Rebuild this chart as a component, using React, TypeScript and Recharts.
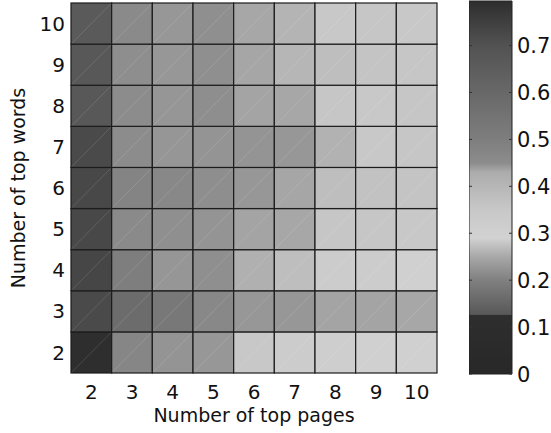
import { ScatterChart, Scatter, XAxis, YAxis, BarChart, Bar } from "recharts";

const pages = [2, 3, 4, 5, 6, 7, 8, 9, 10];
const words = [2, 3, 4, 5, 6, 7, 8, 9, 10];

// one array per "number of top words", values along pages 2..10
const words2 = [0.795, 0.471, 0.445, 0.443, 0.35, 0.326, 0.314, 0.302, 0.302];
const words3 = [0.721, 0.582, 0.527, 0.464, 0.443, 0.443, 0.435, 0.435, 0.433];
const words4 = [0.732, 0.5, 0.444, 0.448, 0.419, 0.379, 0.326, 0.326, 0.302];
const words5 = [0.726, 0.457, 0.448, 0.445, 0.435, 0.433, 0.356, 0.356, 0.35];
const words6 = [0.726, 0.479, 0.464, 0.449, 0.443, 0.434, 0.379, 0.367, 0.361];
const words7 = [0.721, 0.45, 0.444, 0.445, 0.445, 0.443, 0.413, 0.35, 0.356];
const words8 = [0.673, 0.45, 0.444, 0.449, 0.435, 0.433, 0.356, 0.35, 0.356];
const words9 = [0.673, 0.449, 0.443, 0.448, 0.434, 0.401, 0.379, 0.361, 0.356];
const words10 = [0.664, 0.457, 0.443, 0.448, 0.433, 0.407, 0.35, 0.356, 0.35];
const rows = [words2, words3, words4, words5, words6, words7, words8, words9, words10];

// grey colormap (value -> grey level), non-monotonic like the original
const cmapValues = [0, 0.125, 0.127, 0.2, 0.25, 0.29, 0.35, 0.43, 0.45, 0.5, 0.6, 0.7, 0.795];
const cmapGreys = [40, 46, 88, 128, 168, 210, 200, 172, 140, 126, 104, 82, 46];
const cbTicks = [0, 0.1, 0.2, 0.3, 0.4, 0.5, 0.6, 0.7];
const cbMax = 0.795;

const FONT = "DejaVu Sans";
const W = 551;
const H = 433;
const M = { top: 3, right: 114, bottom: 0, left: 0 };
const Y_AXIS_W = 71;
const X_AXIS_H = 60;
const CELL_W = (W - M.left - M.right - Y_AXIS_W) / pages.length;
const CELL_H = (H - M.top - M.bottom - X_AXIS_H) / words.length;

function grey(v: number) {
  let g = cmapGreys[cmapGreys.length - 1];
  for (let i = 0; i < cmapValues.length - 1; i++) {
    const a = cmapValues[i], b = cmapValues[i + 1];
    if (v >= a && v <= b) {
      g = cmapGreys[i] + ((v - a) / (b - a)) * (cmapGreys[i + 1] - cmapGreys[i]);
      break;
    }
  }
  const c = Math.round(g);
  return `rgb(${c},${c},${c})`;
}

const cells = words.flatMap((w, r) =>
  pages.map((p, c) => ({ page: p, words: w, value: rows[r][c] }))
);

function HeatCell(props: any) {
  const { cx, cy, payload } = props;
  const x = cx - CELL_W / 2;
  const y = cy - CELL_H / 2;
  return (
    <g>
      <rect x={x} y={y} width={CELL_W} height={CELL_H} fill={grey(payload.value)} stroke="#1c1c1c" strokeWidth={1.2} />
      <line x1={x + 1} y1={y + CELL_H - 1} x2={x + CELL_W - 1} y2={y + 1} stroke="#fff" strokeOpacity={0.16} strokeWidth={0.8} />
    </g>
  );
}

const CB_W = 43;

function ColorbarTick(props: any) {
  const { y, payload } = props;
  const v = payload.value;
  return (
    <g>
      <line x1={0} y1={y} x2={3} y2={y} stroke="#333" strokeWidth={1} />
      <line x1={CB_W - 3} y1={y} x2={CB_W} y2={y} stroke="#333" strokeWidth={1} />
      <text x={CB_W + 5} y={y} dy="0.36em" fontSize={21} fontFamily={FONT} fill="#111">
        {v === 0 ? "0" : v.toFixed(1)}
      </text>
    </g>
  );
}

export default function App() {
  const tickStyle = { fill: "#111", fontSize: 20, fontFamily: FONT };
  return (
    <div style={{ position: "absolute", left: 0, top: 0, width: W, height: H, background: "#fff", overflow: "hidden" }}>
      <ScatterChart width={W} height={H} margin={M}>
        <XAxis
          type="number"
          dataKey="page"
          domain={[1.5, 10.5]}
          ticks={pages}
          interval={0}
          height={X_AXIS_H}
          tickLine={false}
          axisLine={false}
          tick={tickStyle}
          tickMargin={6}
          label={{ value: "Number of top pages", position: "insideBottom", offset: 11, fill: "#111", fontSize: 19, fontFamily: FONT }}
        />
        <YAxis
          type="number"
          dataKey="words"
          domain={[1.5, 10.5]}
          ticks={words}
          interval={0}
          width={Y_AXIS_W}
          tickLine={false}
          axisLine={false}
          tick={tickStyle}
          tickMargin={0}
          label={{
            value: "Number of top words",
            angle: -90,
            position: "insideLeft",
            offset: 18,
            fill: "#111",
            fontSize: 19,
            fontFamily: FONT,
            style: { textAnchor: "middle" },
          }}
        />
        <Scatter data={cells} shape={HeatCell} isAnimationActive={false} />
      </ScatterChart>

      <div style={{ position: "absolute", left: 469, top: 0 }}>
        <BarChart
          width={CB_W + 60}
          height={H}
          data={[{ name: "cb", top: cbMax }]}
          margin={{ top: 1, right: 0, left: 0, bottom: 59 }}
          barCategoryGap={0}
        >
          <defs>
            <linearGradient id="cbGrad" x1="0" y1="0" x2="0" y2="1">
              {cmapValues
                .map((v, i) => ({ v, g: cmapGreys[i] }))
                .reverse()
                .map((s, i) => (
                  <stop key={i} offset={`${(1 - s.v / cbMax) * 100}%`} stopColor={`rgb(${s.g},${s.g},${s.g})`} />
                ))}
            </linearGradient>
          </defs>
          <XAxis dataKey="name" hide />
          <YAxis
            orientation="right"
            domain={[0, cbMax]}
            ticks={cbTicks}
            width={60}
            tickLine={false}
            axisLine={false}
            tick={<ColorbarTick />}
          />
          <Bar dataKey="top" fill="url(#cbGrad)" stroke="#222" strokeWidth={1} isAnimationActive={false} />
        </BarChart>
      </div>
    </div>
  );
}
